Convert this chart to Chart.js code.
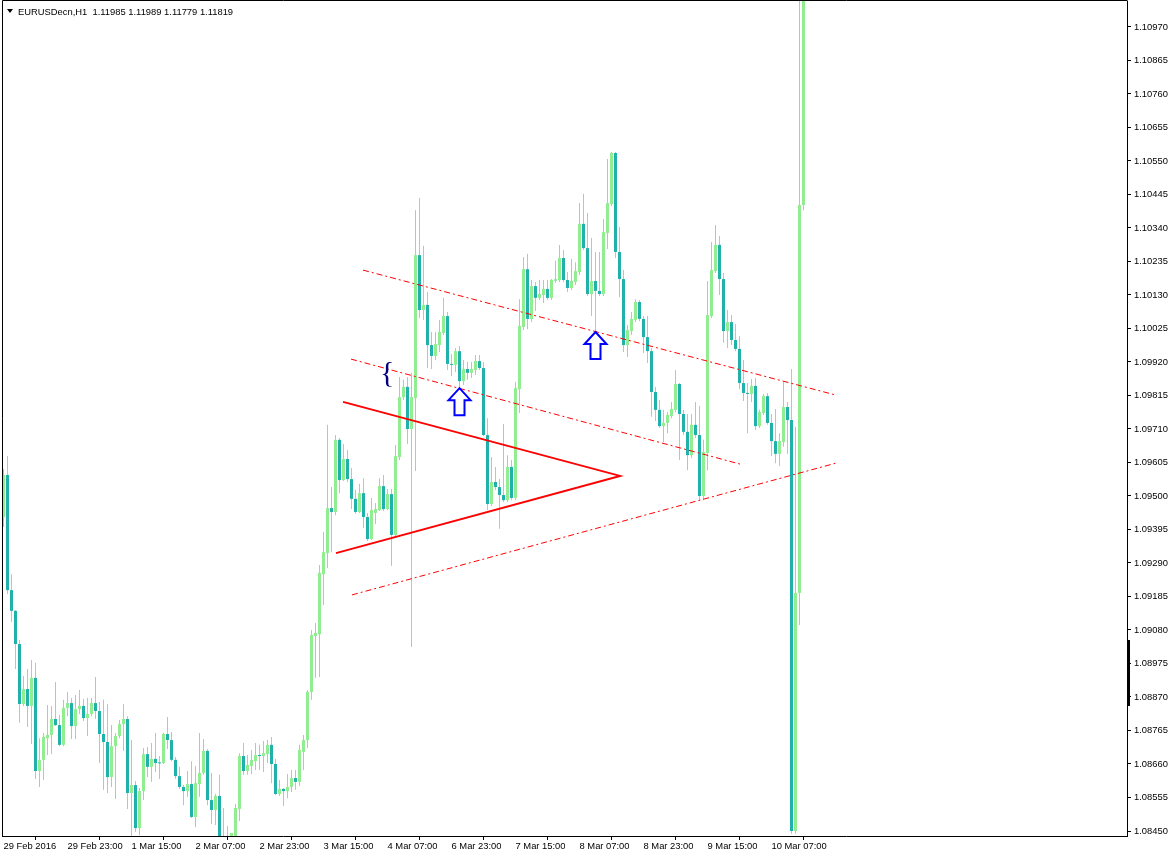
<!DOCTYPE html>
<html><head><meta charset="utf-8">
<script src="https://cdn.jsdelivr.net/npm/chart.js@4.4.1/dist/chart.umd.min.js"></script>
<style>html,body{margin:0;padding:0;background:#fff;}canvas{display:block;}</style>
</head><body>
<canvas id="c" width="1171" height="856"></canvas>
<script>
// ---- data (EURUSD H1) ----
const openP = [1.09434,1.09566,1.09205,1.09140,1.09036,1.08848,1.08895,1.08842,1.08930,1.08638,1.08673,1.08741,1.08751,1.08801,1.08782,1.08720,1.08836,1.08851,1.08779,1.08832,
1.08842,1.08804,1.08817,1.08851,1.08826,1.08754,1.08729,1.08619,1.08716,1.08748,1.08785,1.08801,1.08569,1.08594,1.08459,1.08575,1.08691,1.08651,1.08676,1.08663,
1.08663,1.08754,1.08735,1.08673,1.08622,1.08588,1.08575,1.08597,1.08494,1.08597,1.08632,1.08701,1.08547,1.08516,1.08560,1.08390,1.08415,1.08428,1.08422,1.08519,
1.08685,1.08638,1.08654,1.08669,1.08688,1.08685,1.08691,1.08720,1.08660,1.08566,1.08582,1.08575,1.08588,1.08616,1.08604,1.08698,1.08735,1.08886,1.09061,1.09067,
1.09255,1.09321,1.09462,1.09450,1.09676,1.09550,1.09616,1.09553,1.09491,1.09450,1.09509,1.09434,1.09365,1.09447,1.09456,1.09531,1.09459,1.09506,1.09378,1.09622,
1.09810,1.09842,1.09710,1.09807,1.10255,1.10083,1.10099,1.09973,1.09939,1.09973,1.10011,1.10064,1.09914,1.09911,1.09954,1.09860,1.09898,1.09886,1.09895,1.09923,
1.09901,1.09691,1.09475,1.09544,1.09528,1.09503,1.09487,1.09591,1.09494,1.09835,1.10030,1.10211,1.10055,1.10158,1.10121,1.10130,1.10149,1.10121,1.10174,1.10177,
1.10246,1.10177,1.10152,1.10171,1.10202,1.10353,1.10277,1.10133,1.10174,1.10143,1.10133,1.10324,1.10415,1.10575,1.10265,1.10180,1.09973,1.10017,1.10052,1.10108,
1.10055,1.09998,1.09954,1.09826,1.09770,1.09719,1.09729,1.09751,1.09770,1.09851,1.09757,1.09701,1.09628,1.09723,1.09691,1.09500,1.09635,1.10064,1.10205,1.10287,
1.10180,1.10017,1.10045,1.09989,1.09961,1.09854,1.09823,1.09820,1.09845,1.09719,1.09760,1.09813,1.09729,1.09672,1.09632,1.09669,1.09779,1.09738,1.08450,1.09196,
1.10412];
const highP = [1.09585,1.09625,1.09255,1.09143,1.09049,1.08936,1.08958,1.08986,1.08977,1.08741,1.08757,1.08845,1.08842,1.08917,1.08814,1.08861,1.08886,1.08867,1.08876,1.08892,
1.08864,1.08867,1.08867,1.08933,1.08854,1.08861,1.08848,1.08782,1.08757,1.08798,1.08848,1.08810,1.08735,1.08607,1.08585,1.08710,1.08713,1.08726,1.08757,1.08685,
1.08757,1.08807,1.08760,1.08682,1.08651,1.08594,1.08638,1.08669,1.08654,1.08757,1.08738,1.08707,1.08632,1.08566,1.08626,1.08522,1.08466,1.08444,1.08535,1.08694,
1.08726,1.08688,1.08704,1.08726,1.08720,1.08732,1.08735,1.08745,1.08676,1.08610,1.08585,1.08629,1.08641,1.08641,1.08720,1.08751,1.08892,1.09080,1.09102,1.09284,
1.09387,1.09723,1.09528,1.09691,1.09682,1.09663,1.09644,1.09588,1.09519,1.09538,1.09556,1.09447,1.09494,1.09478,1.09556,1.09566,1.09522,1.09522,1.09660,1.09873,
1.09864,1.09873,1.09886,1.10396,1.10434,1.10284,1.10139,1.10014,1.10014,1.10052,1.10121,1.10077,1.09945,1.09964,1.09970,1.09926,1.09920,1.09920,1.09942,1.09942,
1.09920,1.09744,1.09622,1.09591,1.09553,1.09726,1.09628,1.09613,1.09857,1.10117,1.10249,1.10259,1.10177,1.10171,1.10177,1.10177,1.10177,1.10180,1.10237,1.10287,
1.10271,1.10202,1.10243,1.10233,1.10418,1.10447,1.10387,1.10309,1.10265,1.10265,1.10368,1.10556,1.10578,1.10578,1.10343,1.10208,1.10036,1.10077,1.10117,1.10114,
1.10064,1.10064,1.09964,1.09842,1.09801,1.09770,1.09763,1.09795,1.09895,1.09854,1.09770,1.09757,1.09757,1.09795,1.09782,1.09676,1.10174,1.10296,1.10349,1.10315,
1.10199,1.10083,1.10067,1.10039,1.10001,1.09926,1.09854,1.09867,1.09870,1.09770,1.09820,1.09823,1.09757,1.09773,1.09697,1.09860,1.09795,1.09898,1.09716,1.11100,
1.11250];
const lowP = [1.09403,1.09193,1.09105,1.08958,1.08789,1.08842,1.08776,1.08723,1.08613,1.08588,1.08610,1.08688,1.08691,1.08779,1.08716,1.08716,1.08810,1.08738,1.08738,1.08817,
1.08795,1.08748,1.08810,1.08801,1.08663,1.08579,1.08569,1.08588,1.08550,1.08741,1.08701,1.08519,1.08422,1.08447,1.08437,1.08547,1.08619,1.08604,1.08635,1.08613,
1.08660,1.08707,1.08669,1.08613,1.08582,1.08531,1.08557,1.08491,1.08462,1.08557,1.08626,1.08531,1.08472,1.08469,1.08390,1.08365,1.08390,1.08397,1.08403,1.08481,
1.08626,1.08626,1.08629,1.08641,1.08641,1.08635,1.08663,1.08600,1.08563,1.08560,1.08528,1.08553,1.08572,1.08579,1.08591,1.08641,1.08710,1.08861,1.08930,1.08933,
1.09158,1.09274,1.09324,1.09440,1.09509,1.09547,1.09544,1.09459,1.09444,1.09447,1.09400,1.09359,1.09362,1.09412,1.09453,1.09453,1.09456,1.09281,1.09372,1.09613,
1.09801,1.09663,1.09027,1.09578,1.10058,1.10052,1.09901,1.09898,1.09926,1.09951,1.10005,1.09895,1.09876,1.09889,1.09826,1.09848,1.09864,1.09870,1.09879,1.09895,
1.09688,1.09456,1.09469,1.09519,1.09397,1.09481,1.09481,1.09487,1.09487,1.09760,1.10020,1.10023,1.10045,1.10080,1.10114,1.10105,1.10114,1.10114,1.10168,1.10171,
1.10171,1.10139,1.10146,1.10161,1.10193,1.10271,1.10127,1.10064,1.10014,1.10127,1.10127,1.10274,1.10409,1.10246,1.10124,1.09951,1.09936,1.10005,1.10045,1.10048,
1.09948,1.09917,1.09748,1.09735,1.09713,1.09669,1.09697,1.09744,1.09763,1.09613,1.09691,1.09581,1.09619,1.09682,1.09487,1.09487,1.09581,1.10058,1.10199,1.10130,
1.09980,1.09964,1.09973,1.09954,1.09835,1.09798,1.09697,1.09795,1.09707,1.09713,1.09754,1.09723,1.09625,1.09603,1.09594,1.09654,1.09632,1.08441,1.08441,1.09096,
1.10396];
const closeP = [1.09566,1.09205,1.09140,1.09036,1.08848,1.08895,1.08842,1.08930,1.08638,1.08673,1.08745,1.08751,1.08801,1.08782,1.08720,1.08836,1.08851,1.08779,1.08832,1.08842,
1.08804,1.08817,1.08851,1.08826,1.08754,1.08729,1.08619,1.08716,1.08748,1.08785,1.08801,1.08569,1.08594,1.08459,1.08575,1.08691,1.08651,1.08676,1.08663,1.08662,
1.08754,1.08735,1.08673,1.08622,1.08588,1.08575,1.08597,1.08494,1.08600,1.08632,1.08701,1.08547,1.08516,1.08560,1.08406,1.08415,1.08428,1.08444,1.08522,1.08685,
1.08638,1.08657,1.08673,1.08688,1.08685,1.08694,1.08720,1.08660,1.08566,1.08582,1.08575,1.08588,1.08616,1.08604,1.08704,1.08735,1.08886,1.09064,1.09071,1.09259,
1.09324,1.09462,1.09450,1.09676,1.09550,1.09616,1.09553,1.09491,1.09450,1.09509,1.09434,1.09365,1.09456,1.09459,1.09531,1.09459,1.09506,1.09378,1.09625,1.09810,
1.09842,1.09710,1.09810,1.10255,1.10083,1.10099,1.09973,1.09939,1.09976,1.10014,1.10064,1.09914,1.09911,1.09954,1.09860,1.09898,1.09886,1.09898,1.09923,1.09901,
1.09691,1.09475,1.09544,1.09528,1.09503,1.09487,1.09591,1.09494,1.09838,1.10033,1.10211,1.10055,1.10158,1.10121,1.10133,1.10149,1.10121,1.10177,1.10180,1.10246,
1.10177,1.10152,1.10174,1.10205,1.10353,1.10277,1.10133,1.10174,1.10143,1.10133,1.10327,1.10418,1.10575,1.10265,1.10180,1.09973,1.10020,1.10055,1.10108,1.10055,
1.09998,1.09954,1.09826,1.09770,1.09719,1.09729,1.09754,1.09773,1.09851,1.09757,1.09701,1.09628,1.09723,1.09691,1.09500,1.09638,1.10067,1.10208,1.10287,1.10180,
1.10017,1.10045,1.09989,1.09961,1.09854,1.09823,1.09820,1.09845,1.09719,1.09763,1.09813,1.09729,1.09672,1.09632,1.09672,1.09779,1.09738,1.08450,1.09196,1.10412,
1.11200];

const xTickBars = [0,16,32,48,64,80,96,112,128,144,160,176,192];
const xTickLabels = ["29 Feb 2016","29 Feb 23:00","1 Mar 15:00","2 Mar 07:00","2 Mar 23:00","3 Mar 15:00","4 Mar 07:00","6 Mar 23:00","7 Mar 15:00","8 Mar 07:00","8 Mar 23:00","9 Mar 15:00","10 Mar 07:00"];
const yTickValues = [1.10970,1.10865,1.10760,1.10655,1.10550,1.10445,1.10340,1.10235,1.10130,1.10025,1.09920,1.09815,1.09710,1.09605,1.09500,1.09395,1.09290,1.09185,1.09080,1.08975,1.08870,1.08765,1.08660,1.08555,1.08450];

// drawn objects: [barIndex, price]
const triangleLine = [[84.875,1.09795],[154.125,1.09563],[83.125,1.09321]];
const channelUpper = [[89.875,1.10208],[207.875,1.09817]];
const channelMiddle = [[86.875,1.09929],[184.125,1.09600]];
const channelLower = [[87.125,1.09190],[208.125,1.09603]];
const arrowBars = [114,148];
const arrowPrices = [1.09838,1.10014];
const braceBar = [95.9];
const bracePrice = [1.09882];
const axisMarkRange = [1.08842,1.09049];
const titleText = "EURUSDecn,H1  1.11985 1.11989 1.11779 1.11819";

// ---- build ----
const idx = openP.map((_, i) => i);
const wickData = idx.map(i => ({x: i, y: [lowP[i], highP[i]]}));
const bodyData = idx.map(i => ({x: i, y: [openP[i], closeP[i]]}));
const bodyColors = idx.map(i => closeP[i] >= openP[i] ? '#90EE90' : '#20B2AA');
const pts = a => a.map(p => ({x: p[0], y: p[1]}));

const FONT = "'Liberation Sans', Arial, sans-serif";
Chart.defaults.font.family = FONT;

const decor = {
  id: 'decor',
  afterDatasetsDraw(chart) {
    const ctx = chart.ctx, xs = chart.scales.x, ys = chart.scales.y, ca = chart.chartArea;
    ctx.save();
    ctx.beginPath(); ctx.rect(ca.left, ca.top, ca.right - ca.left, ca.bottom - ca.top); ctx.clip();
    // arrows
    arrowBars.forEach((b, i) => {
      const cx = xs.getPixelForValue(b);
      const ty = ys.getPixelForValue(arrowPrices[i]);
      ctx.beginPath();
      ctx.moveTo(cx, ty);
      ctx.lineTo(cx + 11, ty + 12);
      ctx.lineTo(cx + 5, ty + 12);
      ctx.lineTo(cx + 5, ty + 27);
      ctx.lineTo(cx - 5, ty + 27);
      ctx.lineTo(cx - 5, ty + 12);
      ctx.lineTo(cx - 11, ty + 12);
      ctx.closePath();
      ctx.fillStyle = '#ffffff'; ctx.fill();
      ctx.lineWidth = 2; ctx.strokeStyle = '#0000FF'; ctx.lineJoin = 'miter'; ctx.stroke();
    });
    // brace
    braceBar.forEach((b, i) => {
      ctx.font = "30px 'Liberation Serif', serif";
      ctx.fillStyle = '#000080';
      ctx.textAlign = 'center'; ctx.textBaseline = 'middle';
      ctx.fillText('{', xs.getPixelForValue(b), ys.getPixelForValue(bracePrice[i]));
    });
    ctx.restore();
  },
  afterDraw(chart) {
    const ctx = chart.ctx, ys = chart.scales.y, ca = chart.chartArea;
    ctx.save();
    ctx.strokeStyle = '#000'; ctx.lineWidth = 1;
    ctx.beginPath();
    ctx.moveTo(2.5, ca.bottom); ctx.lineTo(2.5, 0.5); ctx.lineTo(ca.right + 0.5, 0.5);
    ctx.stroke();
    // marker on price axis
    const y1 = ys.getPixelForValue(axisMarkRange[1]), y2 = ys.getPixelForValue(axisMarkRange[0]);
    ctx.fillStyle = '#000';
    ctx.fillRect(ca.right, Math.round(y1), 3, Math.round(y2 - y1));
    // title
    ctx.beginPath();
    ctx.moveTo(7, 9); ctx.lineTo(13, 9); ctx.lineTo(10, 13); ctx.closePath();
    ctx.fill();
    ctx.font = "9.4px " + FONT;
    ctx.textAlign = 'left'; ctx.textBaseline = 'middle';
    ctx.fillText(titleText, 18, 12);
    ctx.restore();
  }
};

const lineDs = (data, width, dash) => ({
  type: 'line', data: pts(data), borderColor: '#FF0000', borderWidth: width,
  borderDash: dash, pointRadius: 0, pointHoverRadius: 0, fill: false, tension: 0, order: 0
});

new Chart(document.getElementById('c'), {
  type: 'bar',
  data: {
    datasets: [
      {type: 'bar', data: wickData, backgroundColor: '#C0C0C0', barThickness: 1, grouped: false, borderWidth: 0, inflateAmount: 0, order: 3},
      {type: 'bar', data: bodyData, backgroundColor: bodyColors, barThickness: 3, grouped: false, borderWidth: 0, inflateAmount: 0, minBarLength: 1, order: 2},
      lineDs(triangleLine, 2, []),
      lineDs(channelUpper, 1, [6, 3, 2, 3]),
      lineDs(channelMiddle, 1, [6, 3, 2, 3]),
      lineDs(channelLower, 1, [6, 3, 2, 3])
    ]
  },
  options: {
    responsive: false, animation: false, devicePixelRatio: 1,
    layout: {padding: {left: 2, top: 1, right: 0, bottom: 0}},
    plugins: {legend: {display: false}, tooltip: {enabled: false}},
    events: [],
    scales: {
      x: {
        type: 'linear', min: -0.375, max: 280.875, offset: false,
        afterBuildTicks: s => { s.ticks = xTickBars.map(v => ({value: v})); },
        afterFit: s => { s.height = 20; s.paddingLeft = 0; s.paddingRight = 0; s.paddingTop = 0; s.paddingBottom = 0; },
        ticks: {callback: (v, i) => xTickLabels[i], align: 'start', maxRotation: 0, minRotation: 0, autoSkip: false,
                font: {size: 9.4, family: FONT}, color: '#000', padding: 1},
        grid: {drawOnChartArea: false, drawTicks: true, tickLength: 4, color: '#000'},
        border: {display: true, color: '#000'}
      },
      y: {
        type: 'linear', position: 'right', min: 1.0843433, max: 1.1105147,
        afterBuildTicks: s => { s.ticks = yTickValues.map(v => ({value: v})); },
        afterFit: s => { s.width = 44; s.paddingLeft = 0; s.paddingRight = 0; s.paddingTop = 0; s.paddingBottom = 0; },
        ticks: {callback: v => Number(v).toFixed(5), autoSkip: false, font: {size: 9.4, family: FONT}, color: '#000', padding: 3},
        grid: {drawOnChartArea: false, drawTicks: true, tickLength: 4, color: '#000'},
        border: {display: true, color: '#000'}
      }
    }
  },
  plugins: [decor]
});
</script>
</body></html>
